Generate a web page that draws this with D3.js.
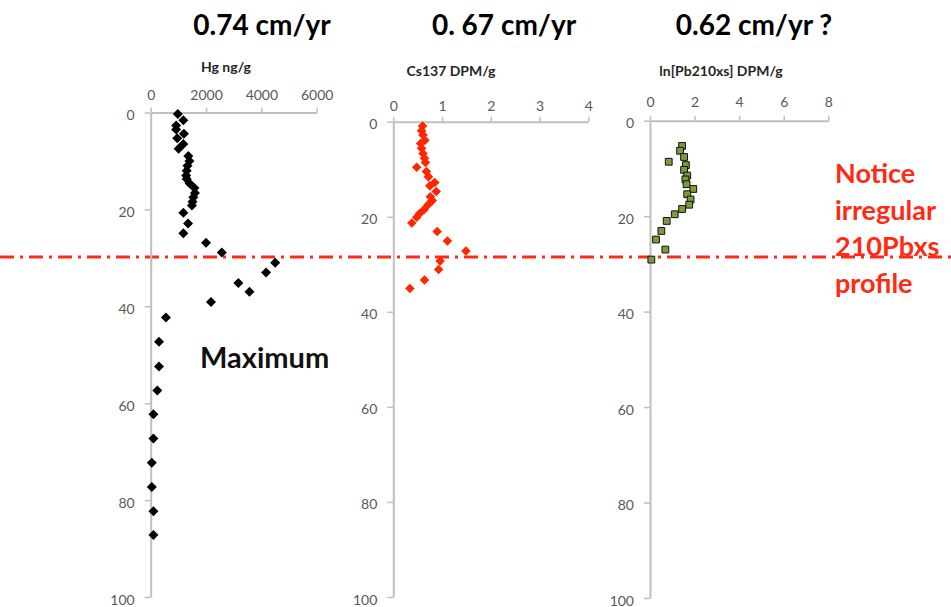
<!DOCTYPE html>
<html>
<head>
<meta charset="utf-8">
<script src="https://cdn.jsdelivr.net/npm/d3@7/dist/d3.min.js"></script>
<style>
  html, body { margin: 0; padding: 0; background: #fff; }
  svg { display: block; }
  .tick text { font-family: Lato, "Open Sans", sans-serif; font-size: 14px; fill: #595959; }
  .axis path.domain { stroke: #bfbfbf; stroke-width: 2; }
  .axis .tick line { stroke: #bfbfbf; stroke-width: 1.5; }
</style>
</head>
<body>
<svg id="chart" width="951" height="607"></svg>
<script>
// Sediment core profiles: depth (cm) vs. Hg, Cs-137 and ln(excess Pb-210)
const depthTicks = [0, 20, 40, 60, 80, 100];

const hgTicks = [0, 2000, 4000, 6000];
const hgDepth = [0.3, 1.6, 2.7, 3.5, 4.4, 5.3, 6.5, 7.5, 9.0, 10.0, 11.0, 12.0, 13.0, 13.7, 14.6,
  15.6, 16.6, 17.5, 18.4, 19.2, 20.7, 22.9, 24.9, 26.9, 28.9, 31.0, 33.0, 35.2, 37.0, 39.1,
  42.3, 47.3, 52.4, 57.4, 62.3, 67.3, 72.3, 77.3, 82.3, 87.2];
const hgValue = [980, 1180, 920, 920, 1200, 960, 1180, 1010, 1360, 1400, 1330, 1300, 1280, 1300, 1400,
  1580, 1600, 1540, 1510, 1490, 1180, 1350, 1180, 2000, 2570, 4500, 4170, 3170, 3570, 2180,
  550, 300, 300, 240, 100, 100, 40, 40, 100, 100];

const csTicks = [0, 1, 2, 3, 4];
const csDepth = [0.9, 1.9, 2.8, 3.9, 4.6, 5.6, 6.7, 7.7, 8.6, 9.6, 10.5, 11.6, 12.8, 13.5, 14.7,
  15.8, 16.6, 17.5, 18.5, 19.3, 20.1, 21.3, 23.1, 25.1, 27.2, 29.3, 31.1, 33.3, 35.1];
const csValue = [0.60, 0.58, 0.61, 0.65, 0.56, 0.58, 0.61, 0.64, 0.66, 0.48, 0.68, 0.72, 0.85, 0.75, 0.88,
  0.76, 0.80, 0.71, 0.63, 0.54, 0.48, 0.38, 0.90, 1.11, 1.49, 0.96, 0.93, 0.64, 0.34];

const pbTicks = [0, 2, 4, 6, 8];
const pbDepth = [5.3, 6.3, 7.6, 8.6, 9.3, 10.3, 11.5, 12.3, 13.3, 14.3, 15.4, 16.5, 17.6, 18.5, 19.6,
  21.0, 23.1, 24.9, 27.0, 29.1];
const pbValue = [1.44, 1.35, 1.53, 0.84, 1.61, 1.53, 1.67, 1.59, 1.64, 1.94, 1.67, 1.82, 1.76, 1.44, 1.11,
  0.75, 0.51, 0.27, 0.69, 0.06];

const rateLabels = ["0.74 cm/yr", "0. 67 cm/yr", "0.62 cm/yr ?"];
const axisTitles = ["Hg ng/g", "Cs137 DPM/g", "ln[Pb210xs] DPM/g"];
const markerDepth = 29.8;   // depth of the dash-dot reference line (Hg profile scale)
const noteLines = ["Notice", "irregular", "210Pbxs", "profile"];

const svg = d3.select("#chart");

// panel layout
const panels = [
  { ticks: hgTicks, depth: hgDepth, value: hgValue, x0: 150.7, x1: 316.7, y0: 112.5, y1: 597,
    pad: 8, shape: "diamond", fill: "#000000", stroke: "none", size: 50,
    title: rateLabels[0], titleX: 262, axisTitle: axisTitles[0], axisTitleX: 226, axisTitleY: 72 },
  { ticks: csTicks, depth: csDepth, value: csValue, x0: 393.3, x1: 588.3, y0: 121.7, y1: 597,
    pad: 6, shape: "diamond", fill: "#ff2600", stroke: "none", size: 46,
    title: rateLabels[1], titleX: 504, axisTitle: axisTitles[1], axisTitleX: 451, axisTitleY: 76 },
  { ticks: pbTicks, depth: pbDepth, value: pbValue, x0: 650, x1: 828.3, y0: 120.7, y1: 598,
    pad: 9, shape: "square", fill: "#7d9b3c", stroke: "#111111", size: 46,
    title: rateLabels[2], titleX: 754, axisTitle: axisTitles[2], axisTitleX: 721, axisTitleY: 76 }
];

panels.forEach(p => {
  p.x = d3.scaleLinear().domain([p.ticks[0], p.ticks[p.ticks.length - 1]]).range([p.x0, p.x1]);
  p.y = d3.scaleLinear().domain([0, 100]).range([p.y0, p.y1]);
});

// dash-dot reference line across the whole figure
svg.append("line")
  .attr("x1", 0).attr("x2", 951)
  .attr("y1", panels[0].y(markerDepth)).attr("y2", panels[0].y(markerDepth))
  .attr("stroke", "#ff2a1a").attr("stroke-width", 3)
  .attr("stroke-dasharray", "14,6,3,6");

panels.forEach(p => {
  const g = svg.append("g");

  // value axis along the top
  g.append("g").attr("class", "axis")
    .attr("transform", `translate(0,${p.y0})`)
    .call(d3.axisTop(p.x).tickValues(p.ticks).tickSize(5).tickSizeOuter(0).tickPadding(p.pad).tickFormat(d3.format("d")))
    .call(a => a.selectAll(".tick text").attr("dy", "0em"));

  // depth axis on the left
  g.append("g").attr("class", "axis")
    .attr("transform", `translate(${p.x0},0)`)
    .call(d3.axisLeft(p.y).tickValues(depthTicks).tickSize(6).tickSizeOuter(0).tickPadding(10).tickFormat(d3.format("d")))
    .call(a => a.selectAll(".tick text").attr("dy", "0.5em"));

  // markers
  const sym = d3.symbol().type(d3.symbolSquare).size(p.size);
  g.append("g").selectAll("path")
    .data(p.depth.map((d, i) => ({ depth: d, value: p.value[i] })))
    .join("path")
    .attr("d", sym)
    .attr("transform", d => `translate(${p.x(d.value)},${p.y(d.depth)})` + (p.shape === "diamond" ? " rotate(45)" : ""))
    .attr("fill", p.fill)
    .attr("stroke", p.stroke)
    .attr("stroke-width", p.stroke === "none" ? 0 : 1);

  // axis title
  g.append("text")
    .attr("x", p.axisTitleX).attr("y", p.axisTitleY)
    .attr("text-anchor", "middle")
    .style("font-family", "Lato, 'Open Sans', sans-serif")
    .style("font-weight", "700").style("font-size", "14px").attr("fill", "#262626")
    .text(p.axisTitle);

  // sedimentation rate heading
  g.append("text")
    .attr("x", p.titleX).attr("y", 35)
    .attr("text-anchor", "middle")
    .style("font-family", "Lato, 'Open Sans', sans-serif")
    .style("font-weight", "700").style("font-size", "28px").attr("fill", "#000")
    .text(p.title);
});

// annotations
svg.append("text")
  .attr("x", 200).attr("y", 368)
  .style("font-family", "Lato, 'Open Sans', sans-serif")
  .style("font-weight", "700").style("font-size", "29px").attr("fill", "#111")
  .text("Maximum");

svg.append("text")
  .attr("x", 835).attr("y", 183)
  .style("font-family", "Lato, 'Open Sans', sans-serif")
  .style("font-weight", "700").style("font-size", "27px").attr("fill", "#ff2a12")
  .selectAll("tspan")
  .data(noteLines)
  .join("tspan")
  .attr("x", 835)
  .attr("dy", (d, i) => i === 0 ? 0 : 36.5)
  .text(d => d);
</script>
</body>
</html>
